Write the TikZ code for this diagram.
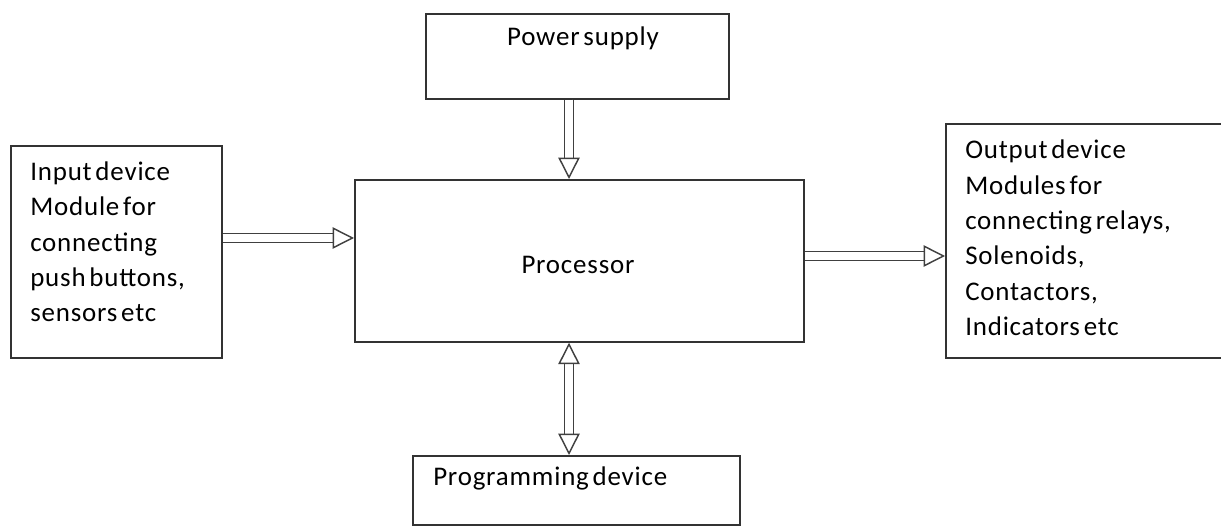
\documentclass[tikz,border=0pt]{standalone}
\usepackage{fontspec}
\setmainfont{Carlito}[LetterSpace=3,WordSpace=0.55]
\usetikzlibrary{arrows.meta}

\tikzset{
	block/.style={draw=black!80, line width=1.3pt, inner sep=0pt, anchor=north west},
	label/.style={font=\fontsize{20.2}{26.5}\selectfont, inner sep=0pt, text=black},
	flow/.style={draw=black!75, line width=1.1pt, double=white, double distance=5.5pt, -{Triangle[open,length=16pt,width=16pt]}},
	flowboth/.style={flow, {Triangle[open,length=16pt,width=16pt]}-{Triangle[open,length=16pt,width=16pt]}}
}

\begin{document}
\begin{tikzpicture}[x=0.75pt,y=0.75pt,yscale=-1,xscale=1]

	\useasboundingbox (0,0) rectangle (1221,527);

	%%BLOCKS---------------------------------------------
	%%Power supply
	\node [block, minimum width=227.25pt, minimum height=63.75pt] (ps) at (425,13) {};
	%%Processor
	\node [block, minimum width=336.75pt, minimum height=121.5pt] (proc) at (354,179) {};
	%%Input device
	\node [block, minimum width=158.25pt, minimum height=159pt] (in) at (10,145) {};
	%%Output device
	\node [block, minimum width=209.25pt, minimum height=175.5pt] (out) at (945,123) {};
	%%Programming device
	\node [block, minimum width=245.25pt, minimum height=51.75pt] (prog) at (412,455) {};

	%%ARROWS---------------------------------------------
	\draw [flow] (ps.south -| 569,0) -- (proc.north -| 569,0);
	\draw [flow] (in.east |- 0,238) -- (proc.west |- 0,238);
	\draw [flow] (proc.east |- 0,256) -- (out.west |- 0,256);
	\draw [flowboth] (proc.south -| 569,0) -- (prog.north -| 569,0);

	% Text Node
	\node [label] (pstext) at (583,38) {Power supply};
	% Text Node
	\node [label] (proctext) at (578,265) {Processor};
	% Text Node
	\node [label, anchor=north west] (progtext) at (433,467) {Programming device};
	% Text Node
	\node [label, anchor=west, align=left] (intext) at (30,242) {Input device\\Module for\\connecting\\push buttons,\\sensors etc};
	% Text Node
	\node [label, anchor=west, align=left] (outtext) at (965,238) {Output device\\Modules for\\connecting relays,\\Solenoids,\\Contactors,\\Indicators etc};

\end{tikzpicture}
\end{document}
